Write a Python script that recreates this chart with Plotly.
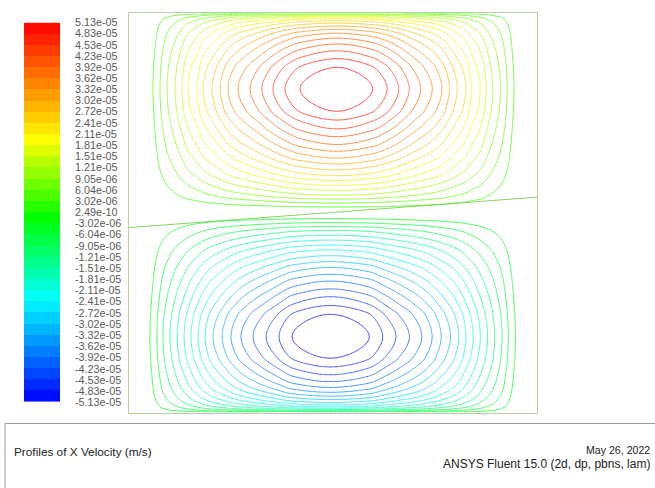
import numpy as np
import plotly.graph_objects as go

# ---------------- data ----------------
LEVEL_LABELS = ["5.13e-05", "4.83e-05", "4.53e-05", "4.23e-05", "3.92e-05", "3.62e-05",
                "3.32e-05", "3.02e-05", "2.72e-05", "2.41e-05", "2.11e-05", "1.81e-05",
                "1.51e-05", "1.21e-05", "9.05e-06", "6.04e-06", "3.02e-06", "2.49e-10",
                "-3.02e-06", "-6.04e-06", "-9.05e-06", "-1.21e-05", "-1.51e-05", "-1.81e-05",
                "-2.11e-05", "-2.41e-05", "-2.72e-05", "-3.02e-05", "-3.32e-05", "-3.62e-05",
                "-3.92e-05", "-4.23e-05", "-4.53e-05", "-4.83e-05", "-5.13e-05"]

# where the contour lines of level k = 1..17 (in steps of the level spacing) cross the
# centre lines of each vortex, as a fraction of the distance from the wall (0) to the centre (1)
TOP_X_CROSSINGS = [0.115, 0.149, 0.183, 0.221, 0.255, 0.284, 0.327, 0.356, 0.399,
                   0.438, 0.476, 0.524, 0.582, 0.639, 0.692, 0.750, 0.822]
BOT_X_CROSSINGS = [0.104, 0.139, 0.169, 0.204, 0.239, 0.274, 0.308, 0.343, 0.378,
                   0.418, 0.463, 0.507, 0.557, 0.617, 0.682, 0.746, 0.811]
WALL_SIDE_Y_CROSSINGS = [0.005, 0.0115, 0.019, 0.029, 0.042, 0.058, 0.077, 0.103, 0.135,
                         0.173, 0.218, 0.269, 0.333, 0.410, 0.500, 0.603, 0.718]
MID_SIDE_Y_CROSSINGS = [0.047, 0.079, 0.110, 0.142, 0.181, 0.220, 0.260, 0.299, 0.346,
                        0.394, 0.441, 0.496, 0.551, 0.614, 0.677, 0.748, 0.819]
PEAK_IN_STEPS = 18.0
TOP_CENTRE = [0.510, 0.810]
BOT_CENTRE = [0.493, 0.190]
MID_LINE = 0.5
ZERO_LINE_X = [0.0, 1.0]
ZERO_LINE_Y = [0.463, 0.539]

# colour map stops as seen on the reference colour bar
CMAP_POS = [0.0, 0.27, 0.485, 0.69, 1.0]
CMAP_RGB = [(0, 0, 255), (0, 255, 255), (0, 255, 0), (255, 255, 0), (255, 0, 0)]

TITLE = "Profiles of X Velocity (m/s)"
DATE = "May 26, 2022"
SOLVER = "ANSYS Fluent 15.0 (2d, dp, pbns, lam)"

# ---------------- helpers ----------------
level_vals = [float(s) for s in LEVEL_LABELS]
vmax, vmin = level_vals[0], level_vals[-1]
nbands = len(LEVEL_LABELS) - 1
step = (vmax - vmin) / nbands
nlev = nbands // 2  # 17


def rainbow(n):
    n = min(max(n, 0.0), 1.0)
    for a, b, ca, cb in zip(CMAP_POS[:-1], CMAP_POS[1:], CMAP_RGB[:-1], CMAP_RGB[1:]):
        if n <= b:
            f = (n - a) / (b - a)
            c = [round(ca[i] + f * (cb[i] - ca[i])) for i in range(3)]
            return "rgb(%d,%d,%d)" % tuple(c)
    return "rgb(255,0,0)"


RAINBOW = [[p, "rgb(%d,%d,%d)" % c] for p, c in zip(CMAP_POS, CMAP_RGB)]


def pchip(xk, yk, x):
    xk = np.asarray(xk, float); yk = np.asarray(yk, float)
    h = np.diff(xk); d = np.diff(yk) / h
    m = np.zeros_like(yk)
    for i in range(1, len(xk) - 1):
        if d[i - 1] * d[i] > 0:
            w1 = 2 * h[i] + h[i - 1]; w2 = h[i] + 2 * h[i - 1]
            m[i] = (w1 + w2) / (w1 / d[i - 1] + w2 / d[i])
    m[0] = d[0]
    m[-1] = 0.0
    idx = np.clip(np.searchsorted(xk, x) - 1, 0, len(xk) - 2)
    t = (x - xk[idx]) / h[idx]
    h00 = 2 * t**3 - 3 * t**2 + 1; h10 = t**3 - 2 * t**2 + t
    h01 = -2 * t**3 + 3 * t**2; h11 = t**3 - t**2
    return h00 * yk[idx] + h10 * h[idx] * m[idx] + h01 * yk[idx + 1] + h11 * h[idx] * m[idx + 1]


def profile(u, crossings):
    xk = [0.0] + list(crossings) + [1.0]
    yk = [0.0] + list(range(1, len(crossings) + 1)) + [PEAK_IN_STEPS]
    return pchip(xk, yk, np.clip(u, 0, 1))


nx, ny = 330, 410
xs = (np.arange(nx) + 0.5) / nx
ys = (np.arange(ny) + 0.5) / ny
X, Y = np.meshgrid(xs, ys)


def xprof(cx, cross):
    u = np.where(X < cx, X / cx, (1 - X) / (1 - cx))
    return profile(u, cross)


Ft = xprof(TOP_CENTRE[0], TOP_X_CROSSINGS)
Fb = xprof(BOT_CENTRE[0], BOT_X_CROSSINGS)
yt, yb = TOP_CENTRE[1], BOT_CENTRE[1]
Gt = np.where(Y >= yt, profile((1 - Y) / (1 - yt), WALL_SIDE_Y_CROSSINGS),
              profile((Y - MID_LINE) / (yt - MID_LINE), MID_SIDE_Y_CROSSINGS))
Gb = np.where(Y <= yb, profile(Y / yb, WALL_SIDE_Y_CROSSINGS),
              profile((MID_LINE - Y) / (MID_LINE - yb), MID_SIDE_Y_CROSSINGS))
Z = np.where(Y >= MID_LINE, Ft * Gt, -Fb * Gb) / PEAK_IN_STEPS * step
Z = Z.astype(np.float32)

pos_cs = [[i / (nlev - 1), rainbow((k + nlev) / nbands)] for i, k in enumerate(range(1, nlev + 1))]
neg_cs = [[i / (nlev - 1), rainbow((k + nlev) / nbands)] for i, k in enumerate(range(-nlev, 0))]

fig = go.Figure()
line_opacity = 0.75
fig.add_trace(go.Contour(x=xs, y=ys, z=Z, autocontour=False,
                         contours=dict(start=step, end=(nlev + 0.5) * step, size=step, coloring="lines"),
                         colorscale=pos_cs, showscale=False, line=dict(width=1, smoothing=1),
                         opacity=line_opacity, hoverinfo="skip"))
fig.add_trace(go.Contour(x=xs, y=ys, z=Z, autocontour=False,
                         contours=dict(start=-nlev * step, end=-0.5 * step, size=step, coloring="lines"),
                         colorscale=neg_cs, showscale=False, line=dict(width=1, smoothing=1),
                         opacity=line_opacity, hoverinfo="skip"))
fig.add_trace(go.Scatter(x=ZERO_LINE_X, y=ZERO_LINE_Y, mode="lines",
                         line=dict(color="rgb(110,200,70)", width=1), opacity=0.8,
                         hoverinfo="skip", showlegend=False))

# colour bar as a heatmap of the bands
mids = [vmin + (i + 0.5) * step for i in range(nbands)]
fig.add_trace(go.Heatmap(x=[0], y=mids, z=[[m] for m in mids], colorscale=RAINBOW,
                         zmin=vmin, zmax=vmax, showscale=False, xaxis="x2", yaxis="y2",
                         hoverinfo="skip"))

W, H = 655, 488
px = lambda v: v / W
py = lambda v: (H - v) / H

fig.update_layout(
    width=W, height=H, margin=dict(l=0, r=0, t=0, b=0),
    paper_bgcolor="white", plot_bgcolor="white", showlegend=False,
    font=dict(family="Liberation Sans, Arial, sans-serif", color="#333"),
    xaxis=dict(domain=[px(129), px(537)], range=[0, 1], showgrid=False, zeroline=False,
               showticklabels=False, ticks="", showline=True, mirror=True,
               linecolor="#b9cfa6", linewidth=1),
    yaxis=dict(domain=[py(417), py(7)], range=[0, 1], showgrid=False, zeroline=False,
               showticklabels=False, ticks="", showline=True, mirror=True,
               linecolor="#b9cfa6", linewidth=1),
    xaxis2=dict(domain=[px(24), px(60)], range=[-0.5, 0.5], showgrid=False, zeroline=False,
                showticklabels=False, ticks="", anchor="y2"),
    yaxis2=dict(domain=[py(406), py(17)], range=[vmin, vmax], showgrid=False, zeroline=False,
                side="right", anchor="free", position=px(74), tickmode="array",
                tickvals=level_vals, ticktext=LEVEL_LABELS, ticks="",
                tickfont=dict(size=10.8, color="#5a5a5a"), showline=False),
    shapes=[dict(type="rect", xref="paper", yref="paper", x0=px(5), x1=1.02,
                 y0=-0.02, y1=py(428), line=dict(color="#999", width=1))],
    annotations=[
        dict(text=TITLE, x=px(12), y=py(457), xref="paper", yref="paper", xanchor="left",
             yanchor="middle", showarrow=False, font=dict(size=11.8, color="#222")),
        dict(text=DATE, x=px(652), y=py(455), xref="paper", yref="paper", xanchor="right",
             yanchor="middle", showarrow=False, font=dict(size=10.6, color="#222")),
        dict(text=SOLVER, x=px(652), y=py(470), xref="paper", yref="paper", xanchor="right",
             yanchor="middle", showarrow=False, font=dict(size=12, color="#222")),
    ],
)

fig.write_html("out.html")
